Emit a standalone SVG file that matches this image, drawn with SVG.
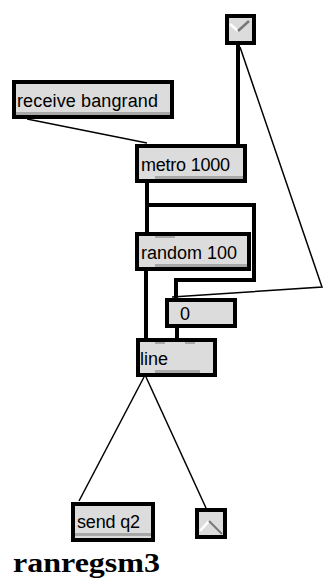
<svg xmlns="http://www.w3.org/2000/svg" width="328" height="588" viewBox="0 0 328 588">
<style>
.box{fill:#dcdcdc;stroke:#000;stroke-width:4}
.strip{fill:#a8a8a8}
.t{font-family:"Liberation Sans",Arial,sans-serif;font-size:18px;fill:#000}
.thick{stroke:#000;stroke-width:4;fill:none}
.thin{stroke:#000;stroke-width:1.5;fill:none}
</style>
<rect width="328" height="588" fill="#fff"/>
<g id="connectors">
<line class="thin" x1="27" y1="119" x2="147" y2="143"/>
<line class="thick" x1="238" y1="45" x2="238" y2="144"/>
<polyline class="thin" points="240,47 322,287 172,297"/>
<line class="thick" x1="147" y1="183" x2="147" y2="232"/>
<polyline class="thick" points="147,205 254,205 254,280 176,280 176,298"/>
<line class="thick" x1="146" y1="271" x2="146" y2="338"/>
<line class="thick" x1="177" y1="328" x2="177" y2="338"/>
<line class="thin" x1="144" y1="377" x2="79" y2="501"/>
<line class="thin" x1="146" y1="377" x2="206" y2="508"/>
</g>
<g id="toggle">
<rect class="box" x="227" y="16" width="27" height="27"/>
<polyline points="230,24 238,31" stroke="#fff" stroke-width="2.5" fill="none"/>
<polyline points="238,31 249,21" stroke="#777" stroke-width="2.5" fill="none"/>
</g>
<g id="receive">
<rect class="box" x="14" y="82" width="158" height="35"/>
<rect class="strip" x="16" y="112" width="154" height="3"/>
<text class="t" x="17" y="107" textLength="141">receive bangrand</text>
</g>
<g id="metro">
<rect class="box" x="137" y="146" width="108" height="35"/>
<rect class="strip" x="155" y="176" width="88" height="3"/>
<text class="t" x="141" y="171" textLength="89">metro 1000</text>
</g>
<g id="random">
<rect class="box" x="137" y="234" width="112" height="35"/>
<rect class="strip" x="155" y="264" width="92" height="3"/>
<rect class="strip" x="155" y="236" width="20" height="2"/>
<text class="t" x="141" y="259" textLength="96">random 100</text>
</g>
<g id="zero">
<rect class="box" x="167" y="300" width="68" height="26"/>
<text class="t" x="180" y="320">0</text>
</g>
<g id="line">
<rect class="box" x="138" y="340" width="77" height="35"/>
<rect class="strip" x="155" y="370" width="45" height="3"/>
<rect class="strip" x="155" y="342" width="10" height="2"/>
<rect class="strip" x="185" y="342" width="10" height="2"/>
<text class="t" x="140" y="365">line</text>
</g>
<g id="send">
<rect class="box" x="73" y="504" width="80" height="36"/>
<rect class="strip" x="75" y="533" width="76" height="3"/>
<text class="t" x="77" y="528" textLength="63">send q2</text>
</g>
<g id="slider">
<rect class="box" x="197" y="510" width="28" height="27"/>
<polyline points="200,531 209,521" stroke="#fff" stroke-width="2.5" fill="none"/>
<polyline points="209,521 222,534" stroke="#777" stroke-width="2" fill="none"/>
</g>
<text x="13" y="572" font-family="'Liberation Serif','Times New Roman',serif" font-weight="bold" font-size="27" textLength="147" lengthAdjust="spacingAndGlyphs">ranregsm3</text>
</svg>
